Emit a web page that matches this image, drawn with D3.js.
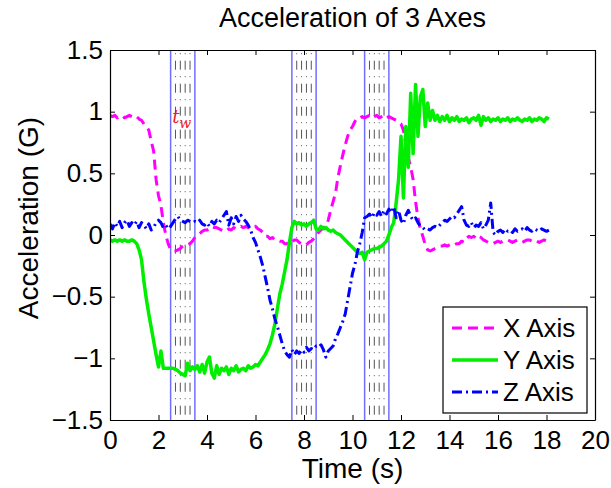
<!DOCTYPE html>
<html>
<head>
<meta charset="utf-8">
<script src="https://cdn.jsdelivr.net/npm/d3@7"></script>
<style>
  html, body { margin: 0; padding: 0; background: #fff; }
  svg { display: block; font-family: "Liberation Sans", Arial, Helvetica, sans-serif; }
</style>
</head>
<body>
<svg id="chart" width="611" height="488"></svg>
<script>
// ---------------- data ----------------
const sampleInterval = 0.1; // seconds between samples, starting at t = 0
const xAxisValues = [
  0.97,0.96,0.97,0.95,0.96,0.97,0.95,0.96,0.97,0.96,
  0.95,0.96,0.94,0.93,0.90,0.88,0.85,0.76,0.68,0.45,
  0.32,0.24,0.10,0.00,-0.07,-0.12,-0.13,-0.13,-0.12,-0.11,
  -0.09,-0.08,-0.08,-0.07,-0.05,-0.02,0.00,0.01,0.03,0.04,
  0.04,0.05,0.07,0.06,0.06,0.05,0.04,0.03,0.03,0.05,
  0.04,0.06,0.05,0.06,0.07,0.06,0.07,0.06,0.08,0.07,
  0.07,0.05,0.04,0.02,-0.01,-0.01,-0.03,-0.02,-0.04,-0.04,
  -0.05,-0.05,-0.07,-0.07,-0.05,-0.06,-0.04,-0.04,-0.06,-0.07,
  -0.08,-0.08,-0.06,-0.05,-0.03,-0.01,0.02,0.04,0.06,0.07,
  0.12,0.20,0.27,0.34,0.47,0.56,0.65,0.73,0.80,0.85,
  0.88,0.92,0.95,0.95,0.96,0.95,0.96,0.97,0.95,0.96,
  0.97,0.95,0.96,0.97,0.95,0.96,0.95,0.94,0.93,0.91,
  0.90,0.85,0.74,0.63,0.55,0.45,0.27,0.14,0.05,-0.01,
  -0.08,-0.12,-0.13,-0.12,-0.11,-0.10,-0.09,-0.09,-0.08,-0.09,
  -0.08,-0.07,-0.08,-0.07,-0.07,-0.05,-0.06,-0.03,-0.01,-0.02,
  -0.01,-0.03,-0.01,-0.02,-0.04,-0.05,-0.06,-0.07,-0.07,-0.06,
  -0.05,-0.06,-0.05,-0.05,-0.04,-0.05,-0.06,-0.05,-0.04,-0.05,
  -0.06,-0.05,-0.04,-0.04,-0.05,-0.04,-0.05,-0.06,-0.05,-0.04,
  -0.05,-0.06
];
const yAxisValues = [
  -0.04,-0.05,-0.04,-0.05,-0.04,-0.05,-0.04,-0.05,-0.05,-0.04,
  -0.05,-0.07,-0.12,-0.20,-0.38,-0.52,-0.64,-0.75,-0.86,-0.97,
  -1.07,-0.94,-1.08,-1.08,-1.08,-1.08,-1.08,-1.09,-1.10,-1.12,
  -1.13,-1.14,-1.04,-1.10,-1.07,-1.09,-1.06,-1.11,-1.05,-1.12,
  -1.03,-0.99,-1.12,-1.16,-1.06,-1.13,-1.08,-1.10,-1.07,-1.13,
  -1.08,-1.10,-1.06,-1.11,-1.09,-1.08,-1.10,-1.06,-1.08,-1.07,
  -1.05,-1.06,-1.03,-1.00,-0.97,-0.93,-0.88,-0.81,-0.72,-0.60,
  -0.48,-0.40,-0.30,-0.20,-0.06,0.06,0.11,0.09,0.10,0.08,
  0.09,0.07,0.09,0.10,0.12,0.05,0.04,0.07,0.05,0.06,
  0.04,0.03,0.04,0.02,0.01,0.00,-0.02,-0.04,-0.06,-0.08,
  -0.10,-0.12,-0.14,-0.15,-0.14,-0.20,-0.14,-0.13,-0.12,-0.11,
  -0.11,-0.10,-0.09,-0.07,-0.05,0.00,0.06,0.10,0.26,0.45,
  0.80,0.30,0.88,0.55,1.15,0.66,1.22,0.80,1.12,1.18,
  0.88,1.07,0.93,1.01,0.93,0.97,0.92,0.96,0.93,0.97,
  0.92,0.95,0.93,0.96,0.92,0.94,0.93,0.95,0.91,0.94,
  0.95,0.93,0.97,0.89,0.96,0.93,0.95,0.92,0.94,0.93,
  0.95,0.92,0.94,0.93,0.95,0.92,0.94,0.93,0.95,0.93,
  0.92,0.94,0.93,0.95,0.92,0.94,0.93,0.95,0.94,0.92,
  0.95,0.94
];
const zAxisValues = [
  0.09,0.05,0.10,0.07,0.11,0.06,0.10,0.12,0.07,0.10,
  0.08,0.11,0.06,0.10,0.08,0.05,0.09,0.04,0.06,0.10,
  0.12,0.10,0.06,0.08,0.05,0.07,0.10,0.13,0.15,0.12,
  0.11,0.10,0.12,0.11,0.10,0.11,0.10,0.12,0.09,0.08,
  0.10,0.07,0.11,0.09,0.12,0.10,0.13,0.16,0.19,0.08,
  0.14,0.09,0.15,0.11,0.16,0.13,0.11,0.08,0.04,-0.02,
  -0.06,-0.12,-0.18,-0.25,-0.34,-0.43,-0.53,-0.60,-0.68,-0.74,
  -0.81,-0.88,-0.94,-0.97,-0.99,-0.93,-0.97,-0.94,-0.96,-0.93,
  -0.95,-0.91,-0.94,-0.92,-0.93,-0.90,-0.91,-0.89,-0.93,-0.99,
  -0.94,-0.92,-0.90,-0.84,-0.80,-0.75,-0.70,-0.64,-0.53,-0.42,
  -0.31,-0.24,-0.14,-0.07,0.02,0.14,0.15,0.17,0.14,0.18,
  0.16,0.19,0.15,0.20,0.17,0.21,0.18,0.23,0.14,0.20,
  0.12,0.09,0.16,0.20,0.15,0.12,0.14,0.10,0.07,0.06,
  0.04,0.05,0.04,0.06,0.07,0.06,0.08,0.10,0.12,0.11,
  0.13,0.15,0.14,0.17,0.20,0.23,0.12,0.08,0.07,0.10,
  0.06,0.08,0.07,0.10,0.05,0.08,0.12,0.26,0.02,0.00,
  0.03,0.04,0.02,0.05,0.03,0.04,0.02,0.05,0.03,0.04,
  0.05,0.03,0.06,0.04,0.03,0.05,0.04,0.03,0.05,0.04,
  0.03,0.04
];
const seriesNames = ["X Axis", "Y Axis", "Z Axis"];
const windowStarts = [2.5, 7.5, 10.5];      // shaded windows t_w (s)
const windowWidth = 1.0;
const windowInnerOffsets = [0.2, 0.4, 0.6, 0.8];
const xTickValues = [0, 2, 4, 6, 8, 10, 12, 14, 16, 18, 20];
const xTickLabels = ["0", "2", "4", "6", "8", "10", "12", "14", "16", "18", "20"];
const yTickValues = [-1.5, -1, -0.5, 0, 0.5, 1, 1.5];
const yTickLabels = ["\u22121.5", "\u22121", "\u22120.5", "0", "0.5", "1", "1.5"];
const titleText = "Acceleration of 3 Axes";
const xLabelText = "Time (s)";
const yLabelText = "Acceleration (G)";

// ---------------- layout ----------------
const svg = d3.select("#chart");
const L = 110, R = 595, T = 50, B = 420;
const x = d3.scaleLinear().domain([0, 20]).range([L, R]);
const y = d3.scaleLinear().domain([-1.5, 1.5]).range([B, T]);

svg.append("rect").attr("width", 611).attr("height", 488).attr("fill", "#fff");

svg.append("defs").append("clipPath").attr("id", "plotclip")
  .append("rect").attr("x", L).attr("y", T).attr("width", R - L).attr("height", B - T);

const plot = svg.append("g").attr("clip-path", "url(#plotclip)");

// window bands
windowStarts.forEach(s => {
  windowInnerOffsets.forEach(o => {
    plot.append("line")
      .attr("x1", x(s + o)).attr("x2", x(s + o))
      .attr("y1", T).attr("y2", B)
      .attr("stroke", "#555").attr("stroke-width", 1)
      .attr("stroke-dasharray", "9,6.5,1,6.5")
      .attr("stroke-dashoffset", 12.3);
  });
  [s, s + windowWidth].forEach(v => {
    plot.append("line")
      .attr("x1", x(v)).attr("x2", x(v))
      .attr("y1", T).attr("y2", B)
      .attr("stroke", "#6f6fff").attr("stroke-width", 1.5);
  });
});

// series
const toPoints = vals => vals.map((v, i) => [i * sampleInterval, v]);
const line = d3.line().x(d => x(d[0])).y(d => y(d[1]));
const styles = [
  { color: "#ff00ff", dash: "10,6", width: 3 },
  { color: "#00ee00", dash: null, width: 3.5 },
  { color: "#0000ff", dash: "10,4,2,4", width: 3 }
];
[xAxisValues, yAxisValues, zAxisValues].forEach((vals, k) => {
  const p = plot.append("path")
    .datum(toPoints(vals))
    .attr("d", line)
    .attr("fill", "none")
    .attr("stroke", styles[k].color)
    .attr("stroke-width", styles[k].width)
    .attr("stroke-linejoin", "round");
  if (styles[k].dash) p.attr("stroke-dasharray", styles[k].dash);
});

// t_w label
const tw = svg.append("text")
  .attr("x", x(windowStarts[0]) + 1.5).attr("y", 123)
  .attr("fill", "#ee2222")
  .attr("font-family", "'DejaVu Serif', 'Liberation Serif', serif")
  .attr("font-style", "italic")
  .attr("font-size", 18);
tw.append("tspan").text("t");
tw.append("tspan").attr("dy", 5).attr("font-size", 14).text("w");

// axes
const fmtX = d => xTickLabels[xTickValues.indexOf(d)];
const fmtY = d => yTickLabels[yTickValues.indexOf(d)];
const gx = svg.append("g").attr("transform", `translate(0,${B})`)
  .call(d3.axisBottom(x).tickValues(xTickValues).tickFormat(fmtX).tickSizeInner(-5).tickSizeOuter(0).tickPadding(11));
const gy = svg.append("g").attr("transform", `translate(${L},0)`)
  .call(d3.axisLeft(y).tickValues(yTickValues).tickFormat(fmtY).tickSizeInner(-5).tickSizeOuter(0).tickPadding(7));
const gt = svg.append("g").attr("transform", `translate(0,${T})`)
  .call(d3.axisTop(x).tickValues(xTickValues).tickFormat("").tickSizeInner(-5).tickSizeOuter(0));
const gr = svg.append("g").attr("transform", `translate(${R},0)`)
  .call(d3.axisRight(y).tickValues(yTickValues).tickFormat("").tickSizeInner(-5).tickSizeOuter(0));
[gx, gy, gt, gr].forEach(g => {
  g.selectAll("path.domain").attr("stroke", "#000").attr("stroke-width", 1.2);
  g.selectAll(".tick line").attr("stroke", "#000").attr("stroke-width", 1);
  g.selectAll(".tick text").attr("fill", "#000")
    .attr("font-family", "'Liberation Sans', Arial, sans-serif").attr("font-size", 26);
});

// titles
svg.append("text").attr("x", (L + R) / 2).attr("y", 27)
  .attr("text-anchor", "middle").attr("font-size", 27).attr("fill", "#000").text(titleText);
svg.append("text").attr("x", (L + R) / 2).attr("y", 478)
  .attr("text-anchor", "middle").attr("font-size", 28).attr("fill", "#000").text(xLabelText);
svg.append("text").attr("transform", `translate(38,218) rotate(-90)`)
  .attr("text-anchor", "middle").attr("font-size", 28).attr("fill", "#000").text(yLabelText);

// legend
const lg = svg.append("g");
lg.append("rect").attr("x", 443).attr("y", 307).attr("width", 144).attr("height", 106)
  .attr("fill", "#fff").attr("stroke", "#000").attr("stroke-width", 1.2);
const legendRowsY = [328, 360, 392];
seriesNames.forEach((name, k) => {
  const ly = legendRowsY[k];
  const l = lg.append("line").attr("x1", 452).attr("x2", 498).attr("y1", ly).attr("y2", ly)
    .attr("stroke", styles[k].color).attr("stroke-width", styles[k].width);
  if (styles[k].dash) l.attr("stroke-dasharray", styles[k].dash);
  lg.append("text").attr("x", 503).attr("y", ly).attr("dy", "0.35em")
    .attr("font-size", 26).attr("fill", "#000").text(name);
});
</script>
</body>
</html>
